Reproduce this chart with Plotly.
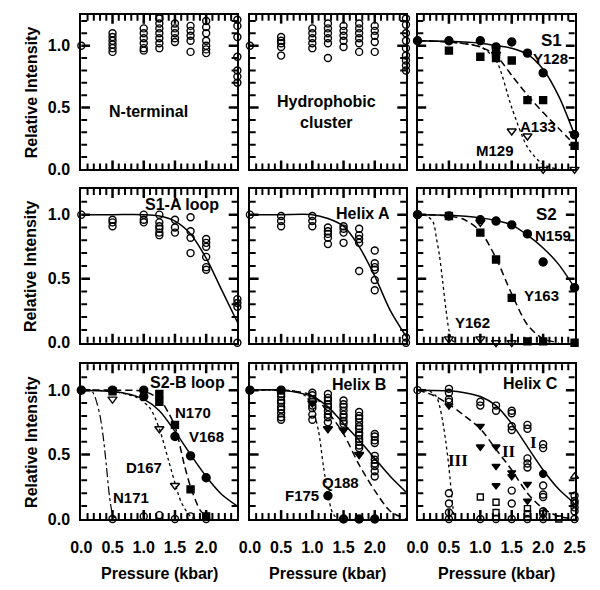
import plotly.graph_objects as go

# ---------------- data ----------------
P8 = [0.0, 0.5, 1.0, 1.25, 1.5, 1.75, 2.0, 2.5]
FIT_P = [0.0, 0.5, 1.0, 1.25, 1.5, 1.75, 2.0, 2.25, 2.5]

# Panel 1: N-terminal (open circles per pressure column)
nterm_open = [
    [1.00],
    [1.10, 1.07, 1.04, 1.01, 0.98, 0.95],
    [1.14, 1.10, 1.06, 1.02, 0.98, 0.96],
    [1.22, 1.18, 1.14, 1.10, 1.06, 1.02, 0.98],
    [1.18, 1.14, 1.10, 1.06, 1.03],
    [1.16, 1.12, 1.08, 1.04, 0.95],
    [1.20, 1.15, 1.10, 1.04, 1.00, 0.97, 0.94],
    [1.21, 1.16, 1.07, 0.91, 0.80, 0.75, 0.70],
]
# Panel 2: Hydrophobic cluster
hydro_open = [
    [1.00],
    [1.07, 1.04, 1.02, 0.99, 0.92],
    [1.14, 1.10, 1.06, 1.02, 0.98],
    [1.18, 1.14, 1.10, 1.06, 1.02, 0.90],
    [1.16, 1.12, 1.08, 1.04, 0.99],
    [1.18, 1.14, 1.10, 1.06, 1.02, 0.95],
    [1.16, 1.12, 1.08, 1.03, 0.95],
    [1.22, 1.17, 1.10, 1.04, 0.98, 0.92, 0.88, 0.84, 0.80],
]
# Panel 3: S1
y128_p = [0.0, 0.5, 1.0, 1.25, 1.5, 1.75, 2.0, 2.5]
y128_I = [1.04, 1.04, 1.04, 0.99, 1.03, 0.94, 0.78, 0.28]
a133_p = [0.5, 1.0, 1.25, 1.25, 1.5, 1.75, 2.0, 2.5]
a133_I = [0.96, 0.91, 0.95, 0.90, 0.88, 0.56, 0.56, 0.19]
m129_p = [1.25, 1.5, 1.75, 2.0, 2.5]
m129_I = [0.93, 0.31, 0.27, 0.0, 0.0]
y128_fit = [1.04, 1.035, 1.02, 1.0, 0.98, 0.93, 0.81, 0.59, 0.28]
a133_fit = [1.04, 1.03, 0.99, 0.92, 0.76, 0.60, 0.46, 0.33, 0.20]
m129_fit_p = [0.0, 0.5, 1.0, 1.25, 1.5, 1.75, 2.0, 2.25]
m129_fit = [1.04, 1.03, 0.99, 0.88, 0.50, 0.18, 0.04, 0.0]

# Panel 4: S1-A loop
s1a_open = [
    [1.00],
    [0.96, 0.94, 0.91],
    [1.00, 0.96, 0.94],
    [1.00, 0.94, 0.91, 0.89, 0.86, 0.84],
    [0.96, 0.90, 0.86],
    [0.98, 0.87, 0.82, 0.70],
    [0.81, 0.78, 0.75, 0.67, 0.59, 0.57],
    [0.34, 0.31, 0.28, 0.0],
]
s1a_fit = [1.0, 1.0, 1.0, 0.99, 0.95, 0.85, 0.66, 0.41, 0.16]

# Panel 5: Helix A
hela_open = [
    [1.00],
    [0.99, 0.95, 0.91],
    [0.99, 0.95, 0.91],
    [0.90, 0.87, 0.85, 0.82, 0.77],
    [0.91, 0.89, 0.86, 0.78],
    [0.89, 0.84, 0.81, 0.78, 0.56],
    [0.72, 0.62, 0.59, 0.57, 0.49, 0.41],
    [0.04, 0.0],
]
hela_fit = [1.0, 1.0, 1.0, 0.97, 0.91, 0.75, 0.52, 0.25, 0.05]

# Panel 6: S2
n159_p = [0.0, 0.5, 1.0, 1.25, 1.5, 1.75, 2.0, 2.5]
n159_I = [1.0, 0.99, 0.96, 0.95, 0.92, 0.85, 0.63, 0.43]
y163_p = [0.5, 1.0, 1.25, 1.5, 1.75, 2.0, 2.5]
y163_I = [0.99, 0.86, 0.65, 0.35, 0.01, 0.01, 0.0]
y162_p = [0.5, 1.0, 1.0, 1.25, 1.5]
y162_I = [0.03, 0.94, 0.03, 0.0, 0.0]
n159_fit = [1.0, 0.995, 0.975, 0.955, 0.92, 0.84, 0.74, 0.61, 0.43]
y163_fit_p = [0.0, 0.5, 0.75, 1.0, 1.25, 1.5, 1.75, 2.0, 2.25]
y163_fit = [1.0, 0.99, 0.96, 0.87, 0.66, 0.38, 0.14, 0.03, 0.0]
y162_fit_p = [0.0, 0.15, 0.25, 0.3, 0.35, 0.4, 0.45, 0.5, 0.55, 0.6]
y162_fit = [1.0, 0.99, 0.94, 0.82, 0.68, 0.48, 0.27, 0.10, 0.02, 0.0]

# Panel 7: S2-B loop
v168_p = [0.0, 0.5, 1.0, 1.0, 1.5, 1.75, 2.0]
v168_I = [1.0, 1.0, 1.0, 0.95, 0.64, 0.49, 0.32]
n170_p = [0.5, 1.25, 1.25, 1.5, 1.75, 2.0]
n170_I = [0.99, 0.97, 0.91, 0.73, 0.23, 0.02]
d167_p = [0.5, 1.25, 1.5]
d167_I = [0.93, 0.70, 0.26]
n171_p = [0.0, 0.5, 1.0, 1.25, 1.5, 1.75, 2.0]
n171_I = [1.0, 0.0, 0.02, 0.03, 0.0, 0.02, 0.0]
v168_fit_p = [0.0, 0.5, 0.75, 1.0, 1.25, 1.5, 1.75, 2.0, 2.25, 2.5]
v168_fit = [1.0, 0.99, 0.97, 0.93, 0.84, 0.68, 0.50, 0.33, 0.19, 0.10]
n170_fit_p = [0.0, 0.5, 1.0, 1.25, 1.4, 1.5, 1.65, 1.75, 1.9, 2.0]
n170_fit = [1.0, 1.0, 0.99, 0.93, 0.82, 0.72, 0.42, 0.25, 0.07, 0.02]
d167_fit_p = [0.0, 0.5, 0.9, 1.1, 1.25, 1.4, 1.5, 1.6, 1.75, 1.85]
d167_fit = [1.0, 0.99, 0.94, 0.86, 0.70, 0.45, 0.28, 0.13, 0.02, 0.0]
n171_fit_p = [0.0, 0.15, 0.2, 0.25, 0.3, 0.35, 0.4, 0.45, 0.5, 0.55]
n171_fit = [1.0, 1.0, 0.97, 0.90, 0.80, 0.64, 0.42, 0.18, 0.04, 0.0]

# Panel 8: Helix B
HELB_P = [0.5, 1.0, 1.25, 1.5, 1.75, 2.0]
helb_open = [
    [0.97, 0.95, 0.92, 0.90, 0.87, 0.85, 0.82, 0.79, 0.77],
    [0.98, 0.96, 0.93, 0.91, 0.88, 0.86, 0.81, 0.77],
    [0.97, 0.94, 0.92, 0.89, 0.87, 0.84, 0.81, 0.79, 0.75],
    [0.92, 0.89, 0.87, 0.84, 0.81, 0.79, 0.76, 0.74],
    [0.83, 0.80, 0.78, 0.75, 0.72, 0.70, 0.67, 0.65, 0.62, 0.60, 0.57, 0.55],
    [0.66, 0.64, 0.61, 0.59, 0.49, 0.46, 0.43, 0.41, 0.37, 0.33],
]
f175_p = [0.0, 0.5, 1.25, 1.5, 1.75, 2.0]
f175_I = [1.0, 1.0, 0.18, 0.0, 0.0, 0.0]
q188_p = [1.0, 1.25, 1.5, 1.75]
q188_I = [0.90, 0.70, 0.69, 0.50]
helb_fit = [1.0, 1.0, 0.95, 0.87, 0.74, 0.61, 0.47, 0.33, 0.21]
q188_fit = [1.0, 1.0, 0.96, 0.83, 0.66, 0.42, 0.22, 0.06, 0.0]
f175_fit_p = [0.0, 0.5, 0.75, 0.9, 1.0, 1.1, 1.18, 1.26, 1.32, 1.4]
f175_fit = [1.0, 1.0, 0.99, 0.95, 0.87, 0.68, 0.40, 0.17, 0.05, 0.0]

# Panel 9: Helix C
helc_open = [
    [1.00],
    [1.01, 0.98, 0.93, 0.91, 0.20, 0.12, 0.05, 0.0],
    [0.91, 0.88, 0.0],
    [0.88, 0.84, 0.0],
    [0.84, 0.82, 0.72, 0.69, 0.22, 0.12, 0.0],
    [0.73, 0.70, 0.47, 0.43, 0.40, 0.0],
    [0.58, 0.55, 0.26, 0.19, 0.17, 0.06, 0.04, 0.0],
    [0.18, 0.14, 0.12, 0.09, 0.06, 0.0],
]
helc_tri_p = [0.5, 1.0, 1.0, 1.25, 1.25, 1.25, 1.5, 1.5, 1.75, 1.75]
helc_tri_I = [0.88, 0.72, 0.56, 0.56, 0.41, 0.26, 0.36, 0.33, 0.27, 0.14]
helc_sq_p = [1.0, 1.25, 1.25, 1.75, 1.75, 2.25]
helc_sq_I = [0.17, 0.13, 0.05, 0.08, 0.04, 0.0]
helc_up_p = [2.5]
helc_up_I = [0.33]
helc_dot_p = [2.0]
helc_dot_I = [0.35]
helcI_fit_p = [0.0, 0.5, 0.75, 1.0, 1.25, 1.5, 1.75, 2.0, 2.25, 2.5]
helcI_fit = [1.0, 0.995, 0.98, 0.95, 0.88, 0.74, 0.56, 0.38, 0.23, 0.12]
helcII_fit_p = [0.0, 0.25, 0.5, 0.75, 1.0, 1.25, 1.5, 1.75, 2.0, 2.25, 2.5]
helcII_fit = [1.0, 0.96, 0.89, 0.80, 0.70, 0.54, 0.38, 0.20, 0.08, 0.02, 0.0]
helcIII_fit_p = [0.0, 0.2, 0.3, 0.35, 0.4, 0.45, 0.5, 0.55, 0.58]
helcIII_fit = [1.0, 0.99, 0.95, 0.88, 0.76, 0.60, 0.40, 0.15, 0.02]

X_TICKS = [0.0, 0.5, 1.0, 1.5, 2.0, 2.5]
X_TEXT_A = ["0.0", "0.5", "1.0", "1.5", "2.0", ""]
X_TEXT_B = ["0.0", "0.5", "1.0", "1.5", "2.0", "2.5"]
Y_TICKS = [0.0, 0.5, 1.0]
Y_TEXT = ["0.0", "0.5", "1.0"]
MAJOR_STEP = 0.5
MINOR_STEP = 0.1

# ---------------- layout geometry ----------------
W, H = 600, 590
COLS_PX = [(73, 235), (248, 410), (422, 585)]
ROWS_PX = [(15, 172), (192, 348), (370, 527)]
ROW_RANGE = [[0, 1.25], [0, 1.2], [0, 1.2]]
X_RANGE = [0, 2.5]
FONT = "Liberation Sans, Arial, sans-serif"
MAJ_LEN, MIN_LEN = 9, 6

fig = go.Figure()


def ax(k):
    return ("x" if k == 1 else f"x{k}"), ("y" if k == 1 else f"y{k}")


def expand(cols, pvals):
    xs, ys = [], []
    for p, vals in zip(pvals, cols):
        for v in vals:
            xs.append(p)
            ys.append(v)
    return xs, ys


def pts(k, x, y, symbol, size, lw=1.4):
    xa, ya = ax(k)
    fig.add_trace(go.Scatter(
        x=x, y=y, mode="markers", xaxis=xa, yaxis=ya, cliponaxis=False,
        marker=dict(symbol=symbol, size=size, color="black",
                    line=dict(color="black", width=lw)),
        showlegend=False, hoverinfo="skip"))


def curve(k, x, y, dash="solid", width=1.5):
    xa, ya = ax(k)
    fig.add_trace(go.Scatter(
        x=x, y=y, mode="lines", xaxis=xa, yaxis=ya, cliponaxis=True,
        line=dict(color="black", width=width, dash=dash, shape="spline",
                  smoothing=0.8),
        showlegend=False, hoverinfo="skip"))


def label(k, x, y, text, size=15, xanchor="center", family=FONT, weight="bold"):
    xa, ya = ax(k)
    fig.add_annotation(x=x, y=y, xref=xa, yref=ya, text=text, showarrow=False,
                       xanchor=xanchor, yanchor="middle",
                       font=dict(family=family, size=size, color="black",
                                 weight=weight))


DASH = "7px,4px"
OC = 7  # open circle size

# Panel 1
x, y = expand(nterm_open, P8)
pts(1, x, y, "circle-open", OC)
label(1, 1.08, 0.47, "N-terminal", 16)

# Panel 2
x, y = expand(hydro_open, P8)
pts(2, x, y, "circle-open", OC)
label(2, 1.23, 0.46, "Hydrophobic<br>cluster", 16)

# Panel 3
curve(3, FIT_P, y128_fit)
curve(3, FIT_P, a133_fit, DASH)
curve(3, m129_fit_p, m129_fit, "dot", 1.3)
pts(3, y128_p, y128_I, "circle", 8)
pts(3, a133_p, a133_I, "square", 7)
pts(3, m129_p, m129_I, "triangle-down-open", 8)
label(3, 2.33, 1.04, "S1", 17, "right")
label(3, 2.12, 0.90, "Y128")
label(3, 1.92, 0.35, "A133")
label(3, 1.23, 0.15, "M129")

# Panel 4
curve(4, FIT_P, s1a_fit)
x, y = expand(s1a_open, P8)
pts(4, x, y, "circle-open", OC)
label(4, 1.62, 1.08, "S1-A loop", 16)

# Panel 5
curve(5, FIT_P, hela_fit)
x, y = expand(hela_open, P8)
pts(5, x, y, "circle-open", OC)
label(5, 2.27, 1.01, "Helix A", 16, "right")

# Panel 6
curve(6, FIT_P, n159_fit)
curve(6, y163_fit_p, y163_fit, DASH)
curve(6, y162_fit_p, y162_fit, "dot", 1.3)
pts(6, n159_p, n159_I, "circle", 8)
pts(6, y163_p, y163_I, "square", 7)
pts(6, y162_p, y162_I, "triangle-down-open", 8)
label(6, 2.26, 1.0, "S2", 17, "right")
label(6, 2.15, 0.84, "N159")
label(6, 1.97, 0.37, "Y163")
label(6, 0.88, 0.16, "Y162")

# Panel 7
curve(7, v168_fit_p, v168_fit)
curve(7, n170_fit_p, n170_fit, DASH)
curve(7, d167_fit_p, d167_fit, "dot", 1.3)
curve(7, n171_fit_p, n171_fit, "dashdot", 1.2)
pts(7, v168_p, v168_I, "circle", 8)
pts(7, n170_p, n170_I, "square", 7)
pts(7, d167_p, d167_I, "triangle-down-open", 8)
pts(7, n171_p, n171_I, "circle-open", OC)
label(7, 1.70, 1.06, "S2-B loop", 16)
label(7, 1.79, 0.83, "N170")
label(7, 2.00, 0.64, "V168")
label(7, 1.00, 0.40, "D167")
label(7, 0.79, 0.17, "N171")

# Panel 8
curve(8, FIT_P, helb_fit)
curve(8, FIT_P, q188_fit, DASH)
curve(8, f175_fit_p, f175_fit, "dot", 1.3)
x, y = expand(helb_open, HELB_P)
pts(8, x, y, "circle-open", OC)
pts(8, f175_p, f175_I, "circle", 8)
pts(8, q188_p, q188_I, "triangle-down", 8)
label(8, 2.22, 1.04, "Helix B", 16, "right")
label(8, 1.45, 0.28, "Q188")
label(8, 0.83, 0.18, "F175")

# Panel 9
curve(9, helcI_fit_p, helcI_fit)
curve(9, helcII_fit_p, helcII_fit, DASH)
curve(9, helcIII_fit_p, helcIII_fit, "dot", 1.3)
x, y = expand(helc_open, P8)
pts(9, x, y, "circle-open", OC)
pts(9, helc_tri_p, helc_tri_I, "triangle-down", 7)
pts(9, helc_sq_p, helc_sq_I, "square-open", 6)
pts(9, helc_up_p, helc_up_I, "triangle-up-open", 7)
pts(9, helc_dot_p, helc_dot_I, "circle", 7)
label(9, 2.27, 1.05, "Helix C", 16, "right")
SERIF = "Liberation Serif, Times New Roman, serif"
label(9, 1.85, 0.59, "I", 17, family=SERIF, weight="bold")
label(9, 1.46, 0.52, "II", 17, family=SERIF, weight="bold")
label(9, 0.64, 0.45, "III", 17, family=SERIF, weight="bold")


# ---------------- axes ----------------
def tick_positions(lo, hi):
    """Interior tick positions (minor step) with a flag for major ones."""
    out = []
    i = 1
    while True:
        v = round(i * MINOR_STEP, 3)
        if v >= hi - 1e-9:
            break
        if v > lo:
            q = v / MAJOR_STEP
            out.append((v, abs(q - round(q)) < 1e-6))
        i += 1
    return out


shapes = []
layout_axes = {}
for r in range(3):
    for c in range(3):
        k = r * 3 + c + 1
        x0, x1 = COLS_PX[c]
        y0, y1 = ROWS_PX[r]
        wpx, hpx = x1 - x0, y1 - y0
        xname = "xaxis" if k == 1 else f"xaxis{k}"
        yname = "yaxis" if k == 1 else f"yaxis{k}"
        xa, ya = ax(k)
        common = dict(showline=True, linewidth=2, linecolor="black",
                      mirror=True, ticks="", showgrid=False, zeroline=False,
                      fixedrange=True,
                      tickfont=dict(family=FONT, size=16, color="black",
                                    weight="bold"))
        layout_axes[xname] = dict(common, domain=[x0 / W, x1 / W], range=X_RANGE,
                                  anchor=ya, tickmode="array", tickvals=X_TICKS,
                                  ticktext=(X_TEXT_B if c == 2 else X_TEXT_A),
                                  showticklabels=(r == 2), ticklabelstandoff=13)
        layout_axes[yname] = dict(common, domain=[1 - y1 / H, 1 - y0 / H],
                                  range=ROW_RANGE[r], anchor=xa, tickmode="array",
                                  tickvals=Y_TICKS, ticktext=Y_TEXT,
                                  showticklabels=(c == 0), ticklabelstandoff=6)
        # inside ticks on all four sides (major + minor)
        for v, major in tick_positions(*X_RANGE):
            L = (MAJ_LEN if major else MIN_LEN) / hpx
            lw = 2.5 if major else 2
            for base, tip in ((0, L), (1, 1 - L)):
                shapes.append(dict(type="line", xref=xa, yref=f"{ya} domain",
                                   x0=v, x1=v, y0=base, y1=tip, layer="above",
                                   line=dict(color="black", width=lw)))
        for v, major in tick_positions(*ROW_RANGE[r]):
            L = (MAJ_LEN if major else MIN_LEN) / wpx
            lw = 2.5 if major else 2
            for base, tip in ((0, L), (1, 1 - L)):
                shapes.append(dict(type="line", xref=f"{xa} domain", yref=ya,
                                   x0=base, x1=tip, y0=v, y1=v, layer="above",
                                   line=dict(color="black", width=lw)))

fig.update_layout(**layout_axes)
fig.update_layout(shapes=shapes)

# axis titles
for r in range(3):
    y0, y1 = ROWS_PX[r]
    fig.add_annotation(x=21 / W, y=1 - (y0 + y1) / 2 / H, xref="paper", yref="paper",
                       text="Relative Intensity", textangle=-90, showarrow=False,
                       xanchor="center", yanchor="middle",
                       font=dict(family=FONT, size=16, color="black", weight="bold"))
for c in range(3):
    x0, x1 = COLS_PX[c]
    fig.add_annotation(x=(x0 + x1) / 2 / W, y=1 - 582 / H, xref="paper", yref="paper",
                       text="Pressure (kbar)", showarrow=False,
                       xanchor="center", yanchor="middle",
                       font=dict(family=FONT, size=16, color="black", weight="bold"))

fig.update_layout(width=W, height=H, margin=dict(l=0, r=0, t=0, b=0),
                  paper_bgcolor="white", plot_bgcolor="white", showlegend=False)

fig.write_html("out.html",
               config={"displayModeBar": False},
               post_script="document.body.style.margin='0';"
                           "document.body.style.overflow='hidden';")
